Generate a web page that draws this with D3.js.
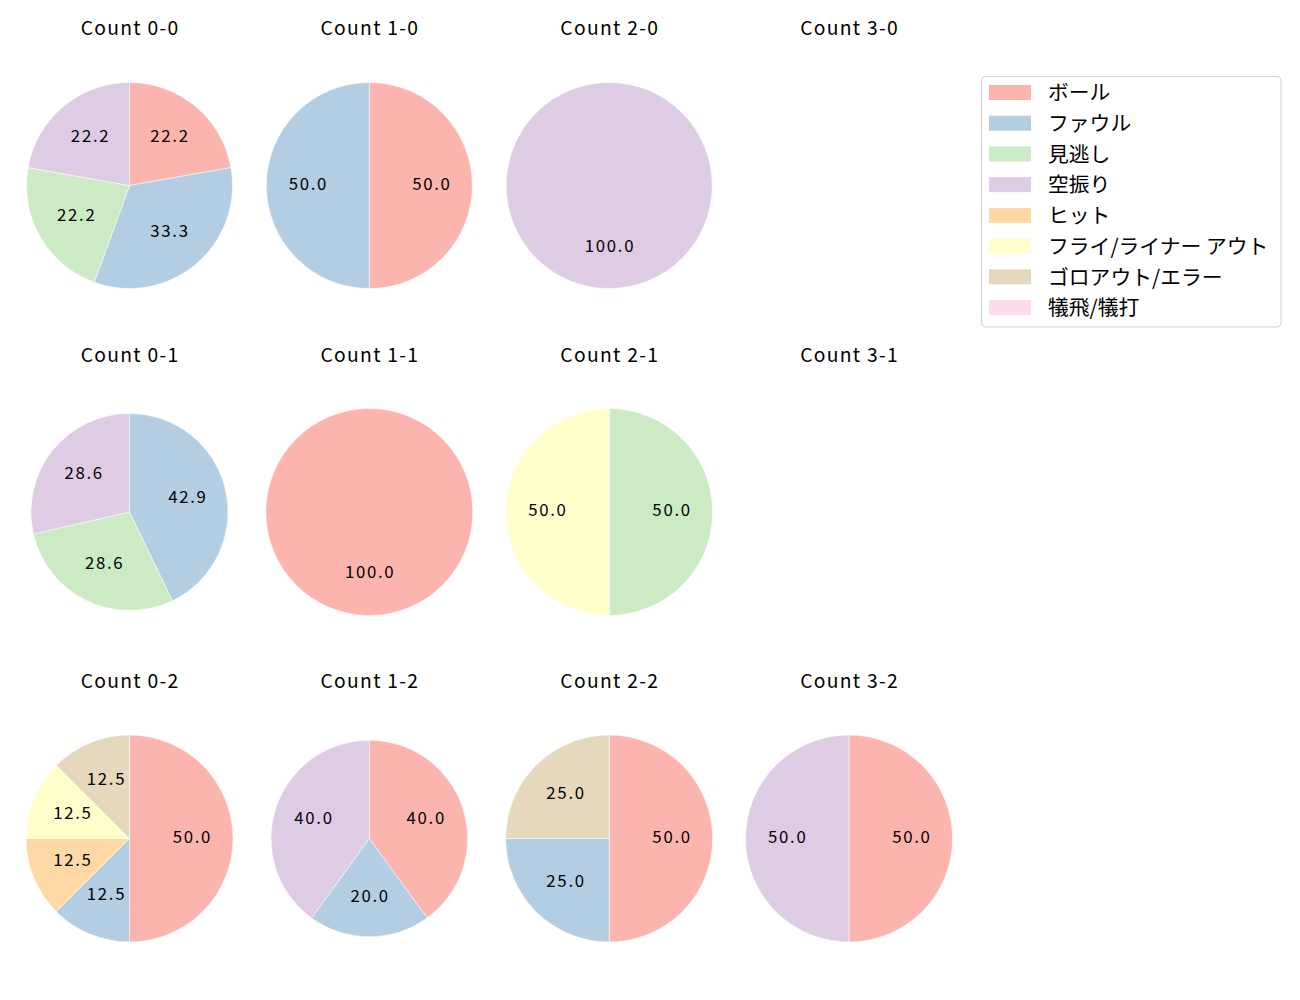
<!DOCTYPE html>
<html><head><meta charset="utf-8">
<script src="https://cdn.jsdelivr.net/npm/d3@7"></script>
<style>body{margin:0;background:#fff}svg{font-family:"Noto Sans CJK JP","Noto Sans",sans-serif}</style>
</head><body>
<div id="chart"></div>
<script>
const categories = ["ボール","ファウル","見逃し","空振り","ヒット","フライ/ライナー アウト","ゴロアウト/エラー","犠飛/犠打"];
const colors = ["#fbb4ae","#b3cde3","#ccebc5","#decbe4","#fed9a6","#ffffcc","#e5d8bd","#fddaec"];
const countLabels = ["Count 0-0","Count 1-0","Count 2-0","Count 3-0",
                     "Count 0-1","Count 1-1","Count 2-1","Count 3-1",
                     "Count 0-2","Count 1-2","Count 2-2","Count 3-2"];
// values per category in order of categories
const values00 = [22.2,33.3,22.2,22.2,0,0,0,0];
const values10 = [50,50,0,0,0,0,0,0];
const values20 = [0,0,0,100,0,0,0,0];
const values30 = [0,0,0,0,0,0,0,0];
const values01 = [0,42.9,28.6,28.6,0,0,0,0];
const values11 = [100,0,0,0,0,0,0,0];
const values21 = [0,0,50,0,0,50,0,0];
const values31 = [0,0,0,0,0,0,0,0];
const values02 = [50,12.5,0,0,12.5,12.5,12.5,0];
const values12 = [40,20,0,40,0,0,0,0];
const values22 = [50,25,0,0,0,0,25,0];
const values32 = [50,0,0,50,0,0,0,0];
const allValues = [values00,values10,values20,values30,values01,values11,values21,values31,values02,values12,values22,values32];
const radii = [103,103,103,103, 98.5,103.5,103.5,103, 103.5,98.3,103.5,103.5];

const W=1300,H=1000;
const svg=d3.select("#chart").append("svg").attr("width",W).attr("height",H);
const colX = d3.scalePoint().domain([0,1,2,3]).range([129.5,849]);
const rowY = d3.scalePoint().domain([0,1,2]).range([185.5,838.5]);
const titleY = d3.scalePoint().domain([0,1,2]).range([35,688]);
const color = d3.scaleOrdinal().domain(categories).range(colors);
const pie = d3.pie().sort(null).value(d=>d.v);

allValues.forEach((vals,i)=>{
  const c=i%4, r=Math.floor(i/4);
  const cx=colX(c), cy=rowY(r), R=radii[i];
  svg.append("text").attr("x",cx+0.6).attr("y",titleY(r)).attr("text-anchor","middle")
    .attr("font-size",19.3).attr("letter-spacing",1.3).attr("fill","#000").text(countLabels[i]);
  const data=categories.map((k,j)=>({k,v:vals[j]})).filter(d=>d.v>0);
  if(!data.length) return;
  const g=svg.append("g").attr("transform",`translate(${cx},${cy})`);
  const arc=d3.arc().innerRadius(0).outerRadius(R);
  const arcs=pie(data);
  g.selectAll("path").data(arcs).join("path").attr("d",arc).attr("fill",d=>color(d.data.k))
    .attr("stroke","#fff").attr("stroke-width",0.5);
  const la=d3.arc().innerRadius(R*0.6).outerRadius(R*0.6);
  g.selectAll("text").data(arcs).join("text")
    .attr("transform",d=>{const p=la.centroid(d);return `translate(${p[0]+0.8},${p[1]+4.2})`;})
    .attr("text-anchor","middle")
    .attr("font-size",16.8).attr("letter-spacing",1.7).attr("fill","#000").text(d=>d.data.v.toFixed(1));
});

// legend
const lg=svg.append("g").attr("transform","translate(981.5,76.5)");
lg.append("rect").attr("width",299.5).attr("height",250.5).attr("rx",4).attr("fill","#fff")
  .attr("stroke","#d0d0d0").attr("stroke-width",1);
const ly=d3.scalePoint().domain(categories).range([16,231]);
categories.forEach(k=>{
  lg.append("rect").attr("x",7.5).attr("y",ly(k)-7.5).attr("width",42).attr("height",15).attr("fill",color(k));
  lg.append("text").attr("x",66.5).attr("y",ly(k)-1.2).attr("dominant-baseline","central")
    .attr("font-size",20.8).attr("fill","#000").text(k);
});
</script>
</body></html>
